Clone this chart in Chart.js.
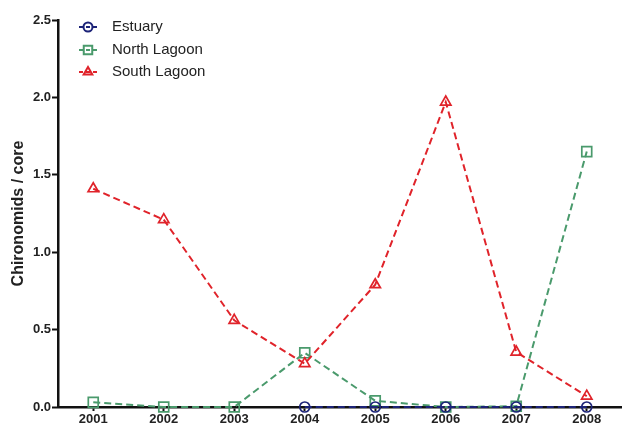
<!DOCTYPE html>
<html>
<head>
<meta charset="utf-8">
<script src="https://cdn.jsdelivr.net/npm/chart.js@4.4.1/dist/chart.umd.min.js"></script>
<style>
  html, body { margin: 0; padding: 0; background: #fff; }
  #wrap { width: 622px; height: 427px; position: relative; }
</style>
</head>
<body>
<div id="wrap"><canvas id="chart"></canvas></div>
<script>
const years = ["2001", "2002", "2003", "2004", "2005", "2006", "2007", "2008"];
const estuary = [null, null, null, 0, 0, 0, 0, 0];
const northLagoon = [0.03, 0, 0, 0.35, 0.04, 0, 0.005, 1.65];
const southLagoon = [1.41, 1.21, 0.56, 0.28, 0.79, 1.97, 0.355, 0.07];
const yTicks = [0, 0.5, 1.0, 1.5, 2.0, 2.5];

const FONT = "'Liberation Sans', Arial, sans-serif";
const NAVY = "#1c2378";
const GREEN = "#4a9a6c";
const RED = "#e0232a";

const markerSize = { circle: 5, rect: 7, triangle: 6 };
const legendMarkerSize = { circle: 4.5, rect: 6, triangle: 5 };

function series(label, data, color, style, order) {
  return {
    label: label,
    data: data,
    borderColor: color,
    backgroundColor: "rgba(255,255,255,0)",
    borderWidth: 2,
    borderDash: [7, 4],
    pointStyle: style,
    pointRadius: markerSize[style],
    pointBorderWidth: 1.7,
    pointBorderColor: color,
    pointBackgroundColor: "rgba(255,255,255,0)",
    tension: 0,
    spanGaps: false,
    clip: false,
    order: order
  };
}

// legend drawn inside the plot, like the original
const insideLegend = {
  id: "insideLegend",
  afterDraw(chart) {
    const ctx = chart.ctx;
    const x0 = 79;
    const rows = [27, 50, 72];
    chart.data.datasets.forEach((ds, i) => {
      const y = rows[i];
      ctx.save();
      ctx.strokeStyle = ds.borderColor;
      ctx.lineWidth = 2;
      ctx.setLineDash([4, 3]);
      ctx.beginPath();
      ctx.moveTo(x0, y);
      ctx.lineTo(x0 + 19, y);
      ctx.stroke();
      ctx.setLineDash([]);
      Chart.helpers.drawPoint(ctx, {
        pointStyle: ds.pointStyle,
        radius: legendMarkerSize[ds.pointStyle],
        borderWidth: 1.7
      }, x0 + 9, y);
      ctx.restore();
      ctx.save();
      ctx.fillStyle = "#222";
      ctx.font = "15px " + FONT;
      ctx.textBaseline = "middle";
      ctx.fillText(ds.label, 112, y);
      ctx.restore();
    });
  }
};

const chart = new Chart(document.getElementById("chart"), {
  type: "line",
  data: {
    labels: years,
    datasets: [
      series("Estuary", estuary, NAVY, "circle", 1),
      series("North Lagoon", northLagoon, GREEN, "rect", 2),
      series("South Lagoon", southLagoon, RED, "triangle", 0)
    ]
  },
  options: {
    responsive: true,
    maintainAspectRatio: false,
    animation: false,
    layout: { autoPadding: false, padding: { top: 20, right: 0, left: 0, bottom: 0 } },
    plugins: {
      legend: { display: false },
      tooltip: { enabled: false }
    },
    scales: {
      x: {
        type: "category",
        offset: true,
        grid: {
          display: true,
          drawOnChartArea: false,
          drawTicks: true,
          tickLength: 4,
          tickColor: "#111",
          tickWidth: 2
        },
        border: { color: "#111", width: 2.5 },
        ticks: {
          color: "#222",
          padding: 1,
          maxRotation: 0,
          font: { family: FONT, size: 13, weight: "bold" }
        },
        afterFit(scale) { scale.height = 20; }
      },
      y: {
        min: 0,
        max: 2.5,
        afterBuildTicks(scale) {
          scale.ticks = yTicks.map(v => ({ value: v }));
        },
        grid: {
          display: true,
          drawOnChartArea: false,
          drawTicks: true,
          tickLength: 6,
          tickColor: "#111",
          tickWidth: 2
        },
        border: { color: "#111", width: 2.5 },
        ticks: {
          color: "#222",
          padding: 1,
          font: { family: FONT, size: 13, weight: "bold" },
          callback: (v) => Number(v).toFixed(1)
        },
        title: {
          display: true,
          text: "Chironomids / core",
          color: "#222",
          padding: { top: 9, bottom: 0 },
          font: { family: FONT, size: 16, weight: "bold" }
        },
        afterFit(scale) { scale.width = 58; }
      }
    }
  },
  plugins: [insideLegend]
});
</script>
</body>
</html>
